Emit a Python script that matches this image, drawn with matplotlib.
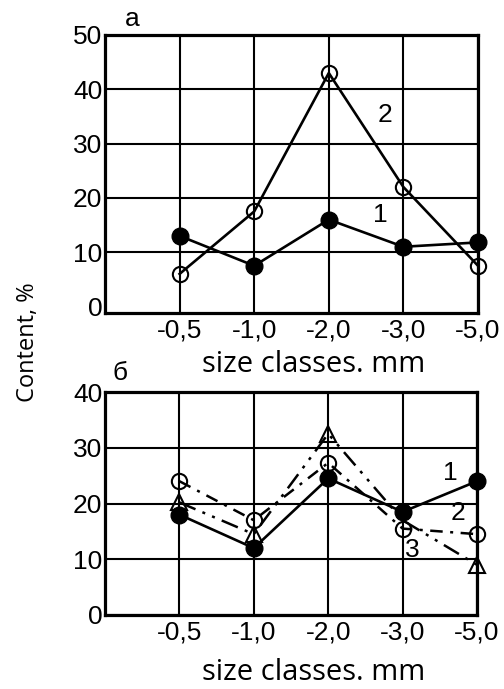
import matplotlib
matplotlib.use("Agg")
import matplotlib.pyplot as plt

categories = ["-0,5", "-1,0", "-2,0", "-3,0", "-5,0"]

# Panel a
a_series1 = [13, 7.5, 16, 11, 11.8]
a_series2 = [6, 17.5, 43, 22, 7.5]

# Panel б
b_series1 = [18, 12, 24.5, 18.5, 24]
b_series2 = [24, 17, 27.3, 15.5, 14.5]
b_series3 = [20.2, 14.5, 32.5, 17, 9]

y_ticks_a = [0, 10, 20, 30, 40, 50]
y_ticks_b = [0, 10, 20, 30, 40]

TICKFONT = ["Liberation Sans", "DejaVu Sans"]
LABFONT = ["Open Sans", "DejaVu Sans"]

fig = plt.figure(figsize=(5.04, 6.89), dpi=100)
W, H = 504, 689

def add_ax(left, right, top, bottom):
    return fig.add_axes([left / W, 1 - bottom / H, (right - left) / W, (bottom - top) / H])

ax1 = add_ax(105, 478, 35, 313)
ax2 = add_ax(105, 477, 392, 615)

x = list(range(len(categories)))

def style(ax, yticks, ylim):
    ax.set_xlim(-1, len(categories) - 1)
    ax.set_ylim(*ylim)
    ax.set_xticks(x)
    ax.set_xticklabels(categories, fontsize=19, family=TICKFONT)
    ax.set_yticks(yticks)
    ax.set_yticklabels([str(v) for v in yticks], fontsize=19, family=TICKFONT)
    ax.tick_params(length=0, pad=2)
    ax.tick_params(axis="x", pad=4)
    ax.grid(True, color="black", linewidth=1.5)
    ax.set_axisbelow(True)
    for s in ax.spines.values():
        s.set_linewidth(2.3)

style(ax1, y_ticks_a, (-1.2, 50))
style(ax2, y_ticks_b, (0, 40))
ax1.get_ygridlines()[0].set_visible(False)

lw = 1.9
ax1.plot(x, a_series1, color="black", lw=lw, marker="o", ms=12, mfc="black", mec="black", zorder=3, clip_on=False)
ax1.plot(x, a_series2, color="black", lw=lw, marker="o", ms=11, mfc="none", mec="black", mew=1.5, zorder=3, clip_on=False)

ax2.plot(x, b_series1, color="black", lw=lw, marker="o", ms=12, mfc="black", mec="black", zorder=3, clip_on=False)
ax2.plot(x, b_series2, color="black", lw=1.8, ls=(0, (5, 3, 1.2, 3)), marker="o", ms=11, mfc="none",
         mec="black", mew=1.5, zorder=3, clip_on=False)
ax2.plot(x, b_series3, color="black", lw=1.8, ls=(0, (7, 3, 1.2, 3, 1.2, 3)), marker="^", ms=11, mfc="none",
         mec="black", mew=1.5, zorder=3, clip_on=False, markevery=[0, 1, 2, 4])

def ftext(px, py, s, size, family, **kw):
    fig.text(px / W, 1 - py / H, s, fontsize=size, family=family, ha="center", va="center", **kw)

ftext(132, 19, "а", 19, TICKFONT)
ftext(120, 373, "б", 19, TICKFONT)
ftext(385, 115, "2", 19, TICKFONT)
ftext(380, 215, "1", 19, TICKFONT)
ftext(450, 473, "1", 19, TICKFONT)
ftext(458, 513, "2", 19, TICKFONT)
ftext(412, 550, "3", 19, TICKFONT)

ftext(314, 364, "size classes. mm", 21, LABFONT)
ftext(314, 672, "size classes. mm", 21, LABFONT)
ftext(28, 342, "Content, %", 17, LABFONT, rotation=90)

fig.savefig("out.png", dpi=100)
